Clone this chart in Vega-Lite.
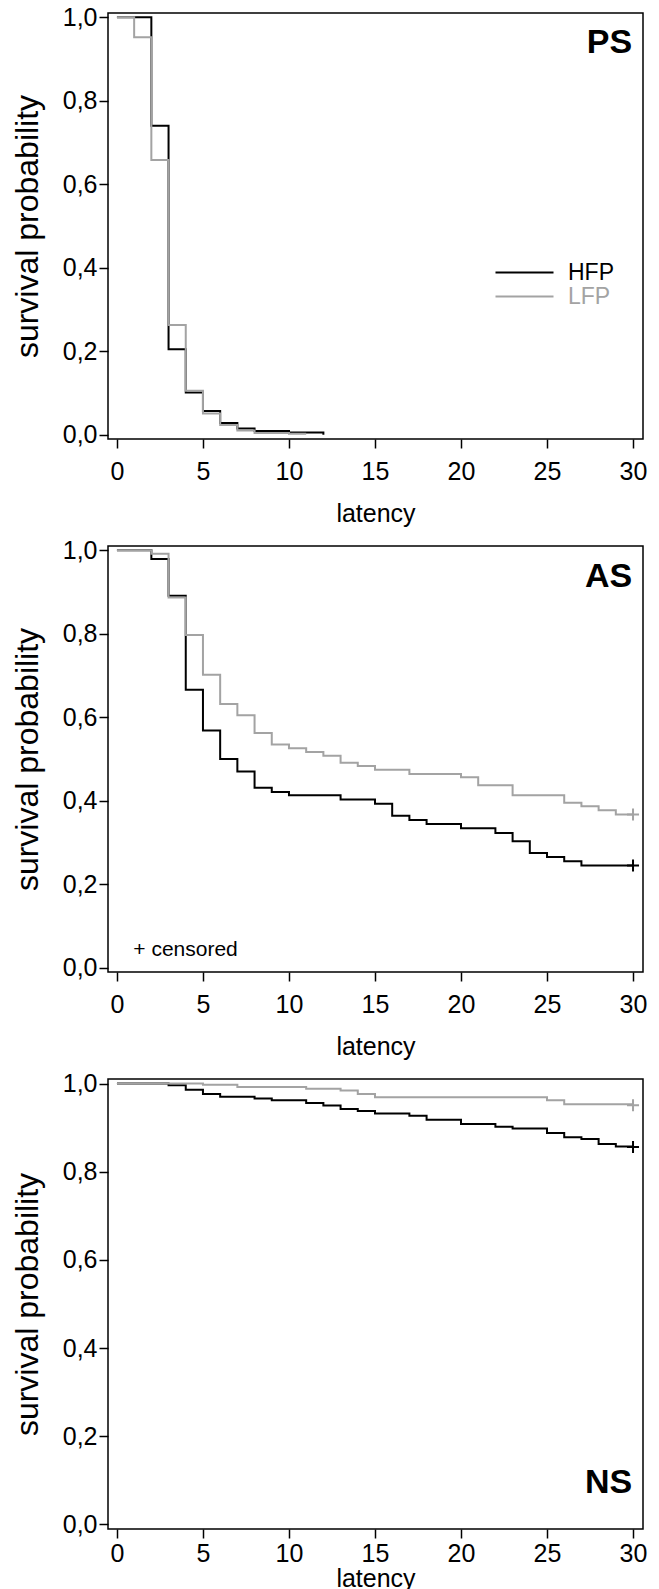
{
  "$schema": "https://vega.github.io/schema/vega-lite/v6.json",
  "background": "white",
  "padding": {"left": 10, "top": 4, "right": 10, "bottom": 0},
  "spacing": 107,
  "bounds": "flush",
  "resolve": {"legend": {"color": "independent"}},
  "config": {
    "font": "Liberation Sans",
    "view": {"stroke": "#000000", "strokeWidth": 1.5},
    "axis": {
      "grid": false, "domain": false,
      "tickColor": "#000000", "tickWidth": 1.5, "tickSize": 9,
      "labelFont": "Liberation Sans", "labelFontSize": 25, "labelColor": "#000000",
      "titleFont": "Liberation Sans", "titleFontWeight": "normal", "titleColor": "#000000"
    },
    "axisX": {"labelPadding": 11, "titlePadding": 17, "labelFlush": false, "titleFontSize": 25},
    "axisY": {"labelPadding": 2, "titlePadding": 18, "titleFontSize": 32}
  },
  "datasets": {
    "km": [
      {"panel": "PS", "group": "HFP", "t": 0, "s": 1},
      {"panel": "PS", "group": "HFP", "t": 2, "s": 0.74},
      {"panel": "PS", "group": "HFP", "t": 3, "s": 0.205},
      {"panel": "PS", "group": "HFP", "t": 4, "s": 0.101},
      {"panel": "PS", "group": "HFP", "t": 5, "s": 0.057},
      {"panel": "PS", "group": "HFP", "t": 6, "s": 0.028},
      {"panel": "PS", "group": "HFP", "t": 7, "s": 0.015},
      {"panel": "PS", "group": "HFP", "t": 8, "s": 0.009},
      {"panel": "PS", "group": "HFP", "t": 10, "s": 0.005},
      {"panel": "PS", "group": "HFP", "t": 12, "s": 0},
      {"panel": "PS", "group": "LFP", "t": 0, "s": 1},
      {"panel": "PS", "group": "LFP", "t": 1, "s": 0.952},
      {"panel": "PS", "group": "LFP", "t": 2, "s": 0.658},
      {"panel": "PS", "group": "LFP", "t": 3, "s": 0.263},
      {"panel": "PS", "group": "LFP", "t": 4, "s": 0.105},
      {"panel": "PS", "group": "LFP", "t": 5, "s": 0.051},
      {"panel": "PS", "group": "LFP", "t": 6, "s": 0.023},
      {"panel": "PS", "group": "LFP", "t": 7, "s": 0.01},
      {"panel": "PS", "group": "LFP", "t": 8, "s": 0.004},
      {"panel": "PS", "group": "LFP", "t": 10, "s": 0.002},
      {"panel": "PS", "group": "LFP", "t": 11, "s": 0.002},

      {"panel": "AS", "group": "HFP", "t": 0, "s": 1},
      {"panel": "AS", "group": "HFP", "t": 2, "s": 0.979},
      {"panel": "AS", "group": "HFP", "t": 3, "s": 0.891},
      {"panel": "AS", "group": "HFP", "t": 4, "s": 0.666},
      {"panel": "AS", "group": "HFP", "t": 5, "s": 0.568},
      {"panel": "AS", "group": "HFP", "t": 6, "s": 0.5},
      {"panel": "AS", "group": "HFP", "t": 7, "s": 0.47},
      {"panel": "AS", "group": "HFP", "t": 8, "s": 0.431},
      {"panel": "AS", "group": "HFP", "t": 9, "s": 0.421},
      {"panel": "AS", "group": "HFP", "t": 10, "s": 0.413},
      {"panel": "AS", "group": "HFP", "t": 13, "s": 0.403},
      {"panel": "AS", "group": "HFP", "t": 15, "s": 0.393},
      {"panel": "AS", "group": "HFP", "t": 16, "s": 0.364},
      {"panel": "AS", "group": "HFP", "t": 17, "s": 0.354},
      {"panel": "AS", "group": "HFP", "t": 18, "s": 0.344},
      {"panel": "AS", "group": "HFP", "t": 20, "s": 0.334},
      {"panel": "AS", "group": "HFP", "t": 22, "s": 0.323},
      {"panel": "AS", "group": "HFP", "t": 23, "s": 0.303},
      {"panel": "AS", "group": "HFP", "t": 24, "s": 0.275},
      {"panel": "AS", "group": "HFP", "t": 25, "s": 0.265},
      {"panel": "AS", "group": "HFP", "t": 26, "s": 0.255},
      {"panel": "AS", "group": "HFP", "t": 27, "s": 0.245},
      {"panel": "AS", "group": "HFP", "t": 30, "s": 0.245},
      {"panel": "AS", "group": "LFP", "t": 0, "s": 1},
      {"panel": "AS", "group": "LFP", "t": 2, "s": 0.992},
      {"panel": "AS", "group": "LFP", "t": 3, "s": 0.887},
      {"panel": "AS", "group": "LFP", "t": 4, "s": 0.797},
      {"panel": "AS", "group": "LFP", "t": 5, "s": 0.702},
      {"panel": "AS", "group": "LFP", "t": 6, "s": 0.632},
      {"panel": "AS", "group": "LFP", "t": 7, "s": 0.605},
      {"panel": "AS", "group": "LFP", "t": 8, "s": 0.562},
      {"panel": "AS", "group": "LFP", "t": 9, "s": 0.535},
      {"panel": "AS", "group": "LFP", "t": 10, "s": 0.526},
      {"panel": "AS", "group": "LFP", "t": 11, "s": 0.517},
      {"panel": "AS", "group": "LFP", "t": 12, "s": 0.508},
      {"panel": "AS", "group": "LFP", "t": 13, "s": 0.491},
      {"panel": "AS", "group": "LFP", "t": 14, "s": 0.483},
      {"panel": "AS", "group": "LFP", "t": 15, "s": 0.474},
      {"panel": "AS", "group": "LFP", "t": 17, "s": 0.464},
      {"panel": "AS", "group": "LFP", "t": 20, "s": 0.456},
      {"panel": "AS", "group": "LFP", "t": 21, "s": 0.437},
      {"panel": "AS", "group": "LFP", "t": 23, "s": 0.413},
      {"panel": "AS", "group": "LFP", "t": 26, "s": 0.395},
      {"panel": "AS", "group": "LFP", "t": 27, "s": 0.387},
      {"panel": "AS", "group": "LFP", "t": 28, "s": 0.377},
      {"panel": "AS", "group": "LFP", "t": 29, "s": 0.367},
      {"panel": "AS", "group": "LFP", "t": 30, "s": 0.367},

      {"panel": "NS", "group": "HFP", "t": 0, "s": 1},
      {"panel": "NS", "group": "HFP", "t": 3, "s": 0.996},
      {"panel": "NS", "group": "HFP", "t": 4, "s": 0.986},
      {"panel": "NS", "group": "HFP", "t": 5, "s": 0.976},
      {"panel": "NS", "group": "HFP", "t": 6, "s": 0.97},
      {"panel": "NS", "group": "HFP", "t": 8, "s": 0.966},
      {"panel": "NS", "group": "HFP", "t": 9, "s": 0.962},
      {"panel": "NS", "group": "HFP", "t": 11, "s": 0.956},
      {"panel": "NS", "group": "HFP", "t": 12, "s": 0.95},
      {"panel": "NS", "group": "HFP", "t": 13, "s": 0.942},
      {"panel": "NS", "group": "HFP", "t": 14, "s": 0.938},
      {"panel": "NS", "group": "HFP", "t": 15, "s": 0.932},
      {"panel": "NS", "group": "HFP", "t": 17, "s": 0.927},
      {"panel": "NS", "group": "HFP", "t": 18, "s": 0.918},
      {"panel": "NS", "group": "HFP", "t": 20, "s": 0.908},
      {"panel": "NS", "group": "HFP", "t": 22, "s": 0.902},
      {"panel": "NS", "group": "HFP", "t": 23, "s": 0.898},
      {"panel": "NS", "group": "HFP", "t": 25, "s": 0.888},
      {"panel": "NS", "group": "HFP", "t": 26, "s": 0.878},
      {"panel": "NS", "group": "HFP", "t": 27, "s": 0.874},
      {"panel": "NS", "group": "HFP", "t": 28, "s": 0.863},
      {"panel": "NS", "group": "HFP", "t": 29, "s": 0.857},
      {"panel": "NS", "group": "HFP", "t": 30, "s": 0.857},
      {"panel": "NS", "group": "LFP", "t": 0, "s": 1},
      {"panel": "NS", "group": "LFP", "t": 5, "s": 0.997},
      {"panel": "NS", "group": "LFP", "t": 7, "s": 0.992},
      {"panel": "NS", "group": "LFP", "t": 11, "s": 0.988},
      {"panel": "NS", "group": "LFP", "t": 13, "s": 0.984},
      {"panel": "NS", "group": "LFP", "t": 14, "s": 0.976},
      {"panel": "NS", "group": "LFP", "t": 15, "s": 0.969},
      {"panel": "NS", "group": "LFP", "t": 25, "s": 0.962},
      {"panel": "NS", "group": "LFP", "t": 26, "s": 0.953},
      {"panel": "NS", "group": "LFP", "t": 30, "s": 0.953}
    ],
    "cens": [
      {"panel": "AS", "group": "HFP", "t": 30, "s": 0.245},
      {"panel": "AS", "group": "LFP", "t": 30, "s": 0.367},
      {"panel": "NS", "group": "HFP", "t": 30, "s": 0.856},
      {"panel": "NS", "group": "LFP", "t": 30, "s": 0.951}
    ]
  },
  "vconcat": [
    {
      "width": 535, "height": 426,
      "layer": [
        {
          "data": {"name": "km"},
          "transform": [{"filter": "datum.panel == 'PS'"}],
          "mark": {"type": "line", "interpolate": "step-after", "strokeWidth": 2},
          "encoding": {
            "x": {"field": "t", "type": "quantitative", "scale": {"domain": [-0.52, 30.58], "nice": false, "zero": false}, "axis": {"values": [0, 5, 10, 15, 20, 25, 30], "title": "latency"}},
            "y": {"field": "s", "type": "quantitative", "scale": {"domain": [-0.0103, 1.0103], "nice": false, "zero": false}, "axis": {"values": [0, 0.2, 0.4, 0.6, 0.8, 1], "labelExpr": "replace(format(datum.value, '.1f'), '.', ',')", "title": "survival probability"}},
            "color": {"field": "group", "type": "nominal", "scale": {"domain": ["HFP", "LFP"], "range": ["#000000", "#a3a3a3"]},
              "legend": {"orient": "none", "legendX": 405, "legendY": 248, "title": null, "padding": 0,
                "symbolType": "M-3,0H3", "symbolSize": 374, "symbolStrokeWidth": 2,
                "labelFont": "Liberation Sans", "labelFontSize": 23, "labelOffset": 32, "rowPadding": 0,
                "labelColor": {"expr": "datum.label == 'LFP' ? '#a3a3a3' : '#000000'"}}}
          }
        },
        {
          "data": {"values": [{}]},
          "mark": {"type": "text", "text": "PS", "font": "Liberation Sans", "fontSize": 34, "fontWeight": "bold", "align": "right", "baseline": "middle", "color": "#000000"},
          "encoding": {"x": {"datum": 29.95}, "y": {"datum": 0.938}}
        }
      ]
    },
    {
      "width": 535, "height": 426,
      "layer": [
        {
          "data": {"name": "km"},
          "transform": [{"filter": "datum.panel == 'AS'"}],
          "mark": {"type": "line", "interpolate": "step-after", "strokeWidth": 2},
          "encoding": {
            "x": {"field": "t", "type": "quantitative", "scale": {"domain": [-0.52, 30.58], "nice": false, "zero": false}, "axis": {"values": [0, 5, 10, 15, 20, 25, 30], "title": "latency"}},
            "y": {"field": "s", "type": "quantitative", "scale": {"domain": [-0.0103, 1.0103], "nice": false, "zero": false}, "axis": {"values": [0, 0.2, 0.4, 0.6, 0.8, 1], "labelExpr": "replace(format(datum.value, '.1f'), '.', ',')", "title": "survival probability"}},
            "color": {"field": "group", "type": "nominal", "scale": {"domain": ["HFP", "LFP"], "range": ["#000000", "#a3a3a3"]}, "legend": null}
          }
        },
        {
          "data": {"name": "cens"},
          "transform": [{"filter": "datum.panel == 'AS'"}],
          "mark": {"type": "point", "shape": "M-1,0L1,0M0,-1L0,1", "filled": false, "size": 144, "strokeWidth": 2, "opacity": 1},
          "encoding": {
            "x": {"field": "t", "type": "quantitative"},
            "y": {"field": "s", "type": "quantitative"},
            "color": {"field": "group", "type": "nominal", "scale": {"domain": ["HFP", "LFP"], "range": ["#000000", "#a3a3a3"]}, "legend": null}
          }
        },
        {
          "data": {"values": [{}]},
          "mark": {"type": "text", "text": "AS", "font": "Liberation Sans", "fontSize": 34, "fontWeight": "bold", "align": "right", "baseline": "middle", "color": "#000000"},
          "encoding": {"x": {"datum": 29.95}, "y": {"datum": 0.936}}
        },
        {
          "data": {"values": [{}]},
          "mark": {"type": "text", "text": "+ censored", "font": "Liberation Sans", "fontSize": 21, "align": "left", "baseline": "middle", "color": "#000000"},
          "encoding": {"x": {"datum": 0.95}, "y": {"datum": 0.043}}
        }
      ]
    },
    {
      "width": 535, "height": 450,
      "layer": [
        {
          "data": {"name": "km"},
          "transform": [{"filter": "datum.panel == 'NS'"}],
          "mark": {"type": "line", "interpolate": "step-after", "strokeWidth": 2},
          "encoding": {
            "x": {"field": "t", "type": "quantitative", "scale": {"domain": [-0.52, 30.58], "nice": false, "zero": false}, "axis": {"values": [0, 5, 10, 15, 20, 25, 30], "title": "latency", "labelPadding": 3, "titlePadding": 0}},
            "y": {"field": "s", "type": "quantitative", "scale": {"domain": [-0.0103, 1.0103], "nice": false, "zero": false}, "axis": {"values": [0, 0.2, 0.4, 0.6, 0.8, 1], "labelExpr": "replace(format(datum.value, '.1f'), '.', ',')", "title": "survival probability"}},
            "color": {"field": "group", "type": "nominal", "scale": {"domain": ["HFP", "LFP"], "range": ["#000000", "#a3a3a3"]}, "legend": null}
          }
        },
        {
          "data": {"name": "cens"},
          "transform": [{"filter": "datum.panel == 'NS'"}],
          "mark": {"type": "point", "shape": "M-1,0L1,0M0,-1L0,1", "filled": false, "size": 144, "strokeWidth": 2, "opacity": 1},
          "encoding": {
            "x": {"field": "t", "type": "quantitative"},
            "y": {"field": "s", "type": "quantitative"},
            "color": {"field": "group", "type": "nominal", "scale": {"domain": ["HFP", "LFP"], "range": ["#000000", "#a3a3a3"]}, "legend": null}
          }
        },
        {
          "data": {"values": [{}]},
          "mark": {"type": "text", "text": "NS", "font": "Liberation Sans", "fontSize": 34, "fontWeight": "bold", "align": "right", "baseline": "middle", "color": "#000000"},
          "encoding": {"x": {"datum": 29.95}, "y": {"datum": 0.094}}
        }
      ]
    }
  ]
}
